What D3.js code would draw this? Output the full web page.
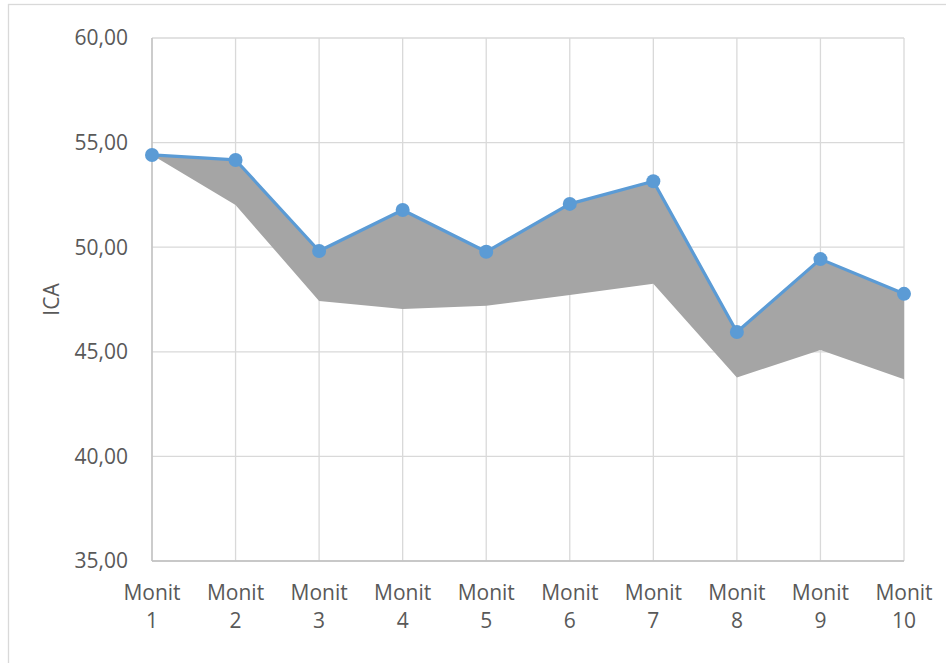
<!DOCTYPE html>
<html>
<head>
<meta charset="utf-8">
<script src="https://cdn.jsdelivr.net/npm/d3@7"></script>
<style>
  html, body { margin: 0; padding: 0; background: #fff; }
  svg { display: block; }
  text { font-family: "Open Sans", "Noto Sans", sans-serif; fill: #595959; }
</style>
</head>
<body>
<svg id="chart" width="946" height="663"></svg>
<script>
// Monitoring campaigns
const categories = ["Monit 1", "Monit 2", "Monit 3", "Monit 4", "Monit 5",
                    "Monit 6", "Monit 7", "Monit 8", "Monit 9", "Monit 10"];
// ICA values (upper line with markers)
const icaValues = [54.41, 54.17, 49.82, 51.78, 49.78, 52.07, 53.15, 45.95, 49.43, 47.77];
// Lower bound of the shaded band
const lowerValues = [54.41, 52.02, 47.43, 47.05, 47.20, 47.72, 48.25, 43.77, 45.09, 43.69];
// Value axis ticks
const yTicks = [35, 40, 45, 50, 55, 60];
const yLabel = "ICA";

const svg = d3.select("#chart");
const W = 946, H = 663;
const margin = { left: 152, right: 42, top: 38, bottom: 102 };
const plotW = W - margin.left - margin.right;
const plotH = H - margin.top - margin.bottom;
const fontSize = 21;

// Chart-area frame
svg.append("rect")
  .attr("x", 8.5).attr("y", 4.5)
  .attr("width", W).attr("height", H)
  .attr("fill", "none").attr("stroke", "#D9D9D9").attr("stroke-width", 1.3);

const g = svg.append("g").attr("transform", `translate(${margin.left},${margin.top})`);

const x = d3.scalePoint().domain(categories).range([0, plotW]);
const y = d3.scaleLinear().domain([35, 60]).range([plotH, 0]);

// Gridlines
g.append("g").selectAll("line.h").data(yTicks).join("line")
  .attr("x1", 0).attr("x2", plotW)
  .attr("y1", d => y(d)).attr("y2", d => y(d))
  .attr("stroke", "#D9D9D9").attr("stroke-width", 1.3);
g.append("g").selectAll("line.v").data(categories).join("line")
  .attr("x1", d => x(d)).attr("x2", d => x(d))
  .attr("y1", 0).attr("y2", plotH)
  .attr("stroke", "#D9D9D9").attr("stroke-width", 1.3);

// Axis lines
g.append("line").attr("x1", 0).attr("x2", 0).attr("y1", 0).attr("y2", plotH)
  .attr("stroke", "#BFBFBF").attr("stroke-width", 1.3);
g.append("line").attr("x1", 0).attr("x2", plotW).attr("y1", plotH).attr("y2", plotH)
  .attr("stroke", "#BFBFBF").attr("stroke-width", 1.3);

// Shaded band between lower bound and ICA
const rows = categories.map((c, i) => ({ c, hi: icaValues[i], lo: lowerValues[i] }));
const area = d3.area()
  .x(d => x(d.c))
  .y0(d => y(d.lo))
  .y1(d => y(d.hi));
g.append("path").datum(rows).attr("d", area).attr("fill", "#A5A5A5");

// ICA line with markers
const line = d3.line().x(d => x(d.c)).y(d => y(d.hi));
g.append("path").datum(rows).attr("d", line)
  .attr("fill", "none").attr("stroke", "#5B9BD5").attr("stroke-width", 3.2)
  .attr("stroke-linejoin", "round");
g.append("g").selectAll("circle").data(rows).join("circle")
  .attr("cx", d => x(d.c)).attr("cy", d => y(d.hi)).attr("r", 7)
  .attr("fill", "#5B9BD5");

// Y tick labels
const fmt = v => d3.format(".2f")(v).replace(".", ",");
g.append("g").selectAll("text").data(yTicks).join("text")
  .attr("x", -24).attr("y", d => y(d)).attr("dy", "0.35em")
  .attr("text-anchor", "end").attr("font-size", fontSize)
  .text(fmt);

// X tick labels (two lines)
const xl = g.append("g").selectAll("text").data(categories).join("text")
  .attr("text-anchor", "middle").attr("font-size", fontSize)
  .attr("transform", d => `translate(${x(d)},${plotH + 39})`);
xl.each(function(d) {
  const parts = d.split(" ");
  const t = d3.select(this);
  parts.forEach((p, i) => {
    t.append("tspan").attr("x", 0).attr("y", i * 28).text(p);
  });
});

// Y axis title
svg.append("text")
  .attr("transform", `translate(59,${margin.top + plotH / 2}) rotate(-90)`)
  .attr("text-anchor", "middle").attr("font-size", fontSize)
  .text(yLabel);
</script>
</body>
</html>
